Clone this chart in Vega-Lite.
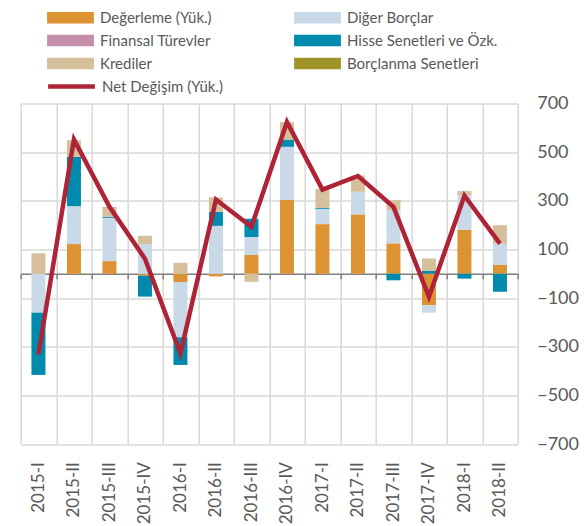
{
  "$schema": "https://vega.github.io/schema/vega-lite/v6.json",
  "autosize": {"type": "none"},
  "width": 497,
  "height": 340.5,
  "padding": {"left": 20.7, "top": 103.5, "right": 66.3, "bottom": 82},
  "background": "white",
  "config": {"font": "Lato", "view": {"stroke": null}},
  "datasets": {
    "components": [
      {"period": "2015-I", "series": "Değerleme (Yük.)", "value": 0},
      {"period": "2015-I", "series": "Diğer Borçlar", "value": -160},
      {"period": "2015-I", "series": "Hisse Senetleri ve Özk.", "value": -256},
      {"period": "2015-I", "series": "Krediler", "value": 84},
      {"period": "2015-II", "series": "Değerleme (Yük.)", "value": 122},
      {"period": "2015-II", "series": "Diğer Borçlar", "value": 156},
      {"period": "2015-II", "series": "Hisse Senetleri ve Özk.", "value": 203},
      {"period": "2015-II", "series": "Krediler", "value": 68},
      {"period": "2015-III", "series": "Değerleme (Yük.)", "value": 52},
      {"period": "2015-III", "series": "Diğer Borçlar", "value": 178},
      {"period": "2015-III", "series": "Hisse Senetleri ve Özk.", "value": 4},
      {"period": "2015-III", "series": "Krediler", "value": 41},
      {"period": "2015-IV", "series": "Değerleme (Yük.)", "value": -8},
      {"period": "2015-IV", "series": "Diğer Borçlar", "value": 122},
      {"period": "2015-IV", "series": "Hisse Senetleri ve Özk.", "value": -86},
      {"period": "2015-IV", "series": "Krediler", "value": 34},
      {"period": "2016-I", "series": "Değerleme (Yük.)", "value": -34},
      {"period": "2016-I", "series": "Diğer Borçlar", "value": -227},
      {"period": "2016-I", "series": "Hisse Senetleri ve Özk.", "value": -114},
      {"period": "2016-I", "series": "Krediler", "value": 45},
      {"period": "2016-II", "series": "Değerleme (Yük.)", "value": -11},
      {"period": "2016-II", "series": "Diğer Borçlar", "value": 197},
      {"period": "2016-II", "series": "Hisse Senetleri ve Özk.", "value": 58},
      {"period": "2016-II", "series": "Krediler", "value": 59},
      {"period": "2016-III", "series": "Değerleme (Yük.)", "value": 77},
      {"period": "2016-III", "series": "Diğer Borçlar", "value": 74},
      {"period": "2016-III", "series": "Hisse Senetleri ve Özk.", "value": 75},
      {"period": "2016-III", "series": "Krediler", "value": -33},
      {"period": "2016-IV", "series": "Değerleme (Yük.)", "value": 303},
      {"period": "2016-IV", "series": "Diğer Borçlar", "value": 219},
      {"period": "2016-IV", "series": "Hisse Senetleri ve Özk.", "value": 30},
      {"period": "2016-IV", "series": "Krediler", "value": 71},
      {"period": "2017-I", "series": "Değerleme (Yük.)", "value": 204},
      {"period": "2017-I", "series": "Diğer Borçlar", "value": 63},
      {"period": "2017-I", "series": "Hisse Senetleri ve Özk.", "value": 4},
      {"period": "2017-I", "series": "Krediler", "value": 77},
      {"period": "2017-II", "series": "Değerleme (Yük.)", "value": 244},
      {"period": "2017-II", "series": "Diğer Borçlar", "value": 93},
      {"period": "2017-II", "series": "Hisse Senetleri ve Özk.", "value": 0},
      {"period": "2017-II", "series": "Krediler", "value": 67},
      {"period": "2017-III", "series": "Değerleme (Yük.)", "value": 125},
      {"period": "2017-III", "series": "Diğer Borçlar", "value": 137},
      {"period": "2017-III", "series": "Hisse Senetleri ve Özk.", "value": -27},
      {"period": "2017-III", "series": "Krediler", "value": 40},
      {"period": "2017-IV", "series": "Değerleme (Yük.)", "value": -129},
      {"period": "2017-IV", "series": "Diğer Borçlar", "value": -31},
      {"period": "2017-IV", "series": "Hisse Senetleri ve Özk.", "value": 12},
      {"period": "2017-IV", "series": "Krediler", "value": 51},
      {"period": "2018-I", "series": "Değerleme (Yük.)", "value": 180},
      {"period": "2018-I", "series": "Diğer Borçlar", "value": 143},
      {"period": "2018-I", "series": "Hisse Senetleri ve Özk.", "value": -20},
      {"period": "2018-I", "series": "Krediler", "value": 17},
      {"period": "2018-II", "series": "Değerleme (Yük.)", "value": 36},
      {"period": "2018-II", "series": "Diğer Borçlar", "value": 87},
      {"period": "2018-II", "series": "Hisse Senetleri ve Özk.", "value": -74},
      {"period": "2018-II", "series": "Krediler", "value": 77},
      {"period": "2018-II", "series": "Finansal Türevler", "value": 0},
      {"period": "2018-II", "series": "Borçlanma Senetleri", "value": 0}
    ],
    "net": [
      {"period": "2015-I", "series": "Net Değişim (Yük.)", "value": -331},
      {"period": "2015-II", "series": "Net Değişim (Yük.)", "value": 552},
      {"period": "2015-III", "series": "Net Değişim (Yük.)", "value": 275},
      {"period": "2015-IV", "series": "Net Değişim (Yük.)", "value": 62},
      {"period": "2016-I", "series": "Net Değişim (Yük.)", "value": -328},
      {"period": "2016-II", "series": "Net Değişim (Yük.)", "value": 305},
      {"period": "2016-III", "series": "Net Değişim (Yük.)", "value": 193},
      {"period": "2016-IV", "series": "Net Değişim (Yük.)", "value": 624},
      {"period": "2017-I", "series": "Net Değişim (Yük.)", "value": 346},
      {"period": "2017-II", "series": "Net Değişim (Yük.)", "value": 402},
      {"period": "2017-III", "series": "Net Değişim (Yük.)", "value": 275},
      {"period": "2017-IV", "series": "Net Değişim (Yük.)", "value": -95},
      {"period": "2018-I", "series": "Net Değişim (Yük.)", "value": 321},
      {"period": "2018-II", "series": "Net Değişim (Yük.)", "value": 124}
    ]
  },
  "layer": [
    {
      "data": {"name": "components"},
      "mark": {"type": "bar", "size": 14},
      "encoding": {
        "x": {
          "field": "period", "type": "nominal", "sort": null,
          "scale": {"paddingInner": 0, "paddingOuter": 0},
          "axis": {
            "title": null, "orient": "bottom", "offset": -170.25,
            "tickBand": "extent", "grid": true, "gridColor": "#D9D9D9", "gridWidth": 1.5,
            "domainColor": "#7F7F7F", "domainWidth": 1.5,
            "ticks": true, "tickColor": "#7F7F7F", "tickWidth": 1.5, "tickSize": 5,
            "labelAngle": 270, "labelPadding": 183, "labelFont": "Lato", "labelFontSize": 17,
            "labelColor": "#595959"
          }
        },
        "y": {
          "field": "value", "type": "quantitative", "stack": "zero",
          "scale": {"domain": [-700, 700], "nice": false, "zero": false},
          "axis": {
            "title": null, "orient": "right", "values": [-700, -500, -300, -100, 100, 300, 500, 700],
            "grid": true, "gridColor": "#D9D9D9", "gridWidth": 1.5,
            "domain": false, "ticks": false, "labelPadding": 19,
            "labelFont": "Lato", "labelFontSize": 18, "labelColor": "#595959"
          }
        },
        "order": {"field": "series", "sort": "ascending"},
        "color": {
          "field": "series", "type": "nominal",
          "scale": {
            "domain": ["Değerleme (Yük.)", "Finansal Türevler", "Krediler", "Diğer Borçlar", "Hisse Senetleri ve Özk.", "Borçlanma Senetleri"],
            "range": ["#DD9331", "#C48DAA", "#D6BF9B", "#C9D9E7", "#008BAE", "#A09329"]
          },
          "legend": {
            "title": null, "orient": "none", "legendX": 42.3, "legendY": -93.5,
            "columns": 2, "columnPadding": 82, "rowPadding": 7, "padding": 0,
            "symbolType": "M-4,-1H4V1H-4Z", "symbolSize": 137, "symbolStrokeWidth": 0,
            "labelOffset": 22, "labelFont": "Lato", "labelFontSize": 15, "labelColor": "#595959",
            "labelLimit": 300
          }
        }
      }
    },
    {
      "data": {"name": "net"},
      "mark": {"type": "line", "strokeWidth": 4.5},
      "encoding": {
        "x": {"field": "period", "type": "nominal", "sort": null},
        "y": {"field": "value", "type": "quantitative"},
        "stroke": {
          "field": "series", "type": "nominal",
          "scale": {"range": ["#AE2335"]},
          "legend": {
            "title": null, "orient": "none", "legendX": 42.3, "legendY": -25.5, "padding": 0,
            "symbolType": "M-4,0H4", "symbolSize": 137, "symbolStrokeWidth": 4.5,
            "labelOffset": 22, "labelFont": "Lato", "labelFontSize": 15, "labelColor": "#595959",
            "labelLimit": 300
          }
        }
      }
    }
  ]
}
